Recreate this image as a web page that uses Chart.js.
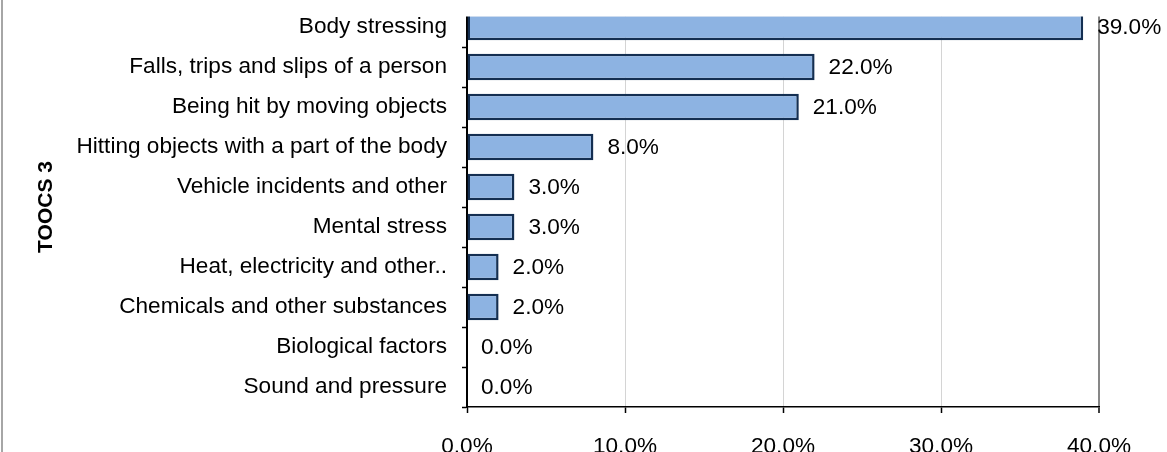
<!DOCTYPE html>
<html>
<head>
<meta charset="utf-8">
<script src="https://cdn.jsdelivr.net/npm/chart.js@4.4.1/dist/chart.umd.min.js"></script>
<style>
  html, body { margin: 0; padding: 0; background: #fff; overflow: hidden; }
  #wrap { position: relative; width: 1167px; height: 490px; }
  #edge { position: absolute; left: 1px; top: 0; width: 2px; height: 452px; background: #a6a6a6; z-index: 2; }
</style>
</head>
<body>
<div id="wrap">
  <div id="edge"></div>
  <canvas id="c" width="1167" height="490"></canvas>
</div>
<script>
const categories = [
  "Body stressing",
  "Falls, trips and slips of a person",
  "Being hit by moving objects",
  "Hitting objects with a part of the body",
  "Vehicle incidents and other",
  "Mental stress",
  "Heat, electricity and other..",
  "Chemicals and other substances",
  "Biological factors",
  "Sound and pressure"
];
const values = [39.0, 22.0, 21.0, 8.0, 3.0, 3.0, 2.0, 2.0, 0.0, 0.0];
const xTicks = [0, 10, 20, 30, 40];
const axisTitle = "TOOCS 3";

const FONT = "'Liberation Sans', Arial, sans-serif";
const FS = 22.6;

const labelPlugin = {
  id: 'labels',
  afterDraw(chart) {
    const ctx = chart.ctx;
    const ca = chart.chartArea;
    ctx.save();
    // top of plot cropped in reference
    ctx.fillStyle = '#ffffff';
    ctx.fillRect(ca.left - 9, 0, ca.right - ca.left + 12, 16.5);
    ctx.font = FS + "px " + FONT;
    ctx.fillStyle = '#000';
    ctx.textAlign = 'left';
    ctx.textBaseline = 'middle';
    const meta = chart.getDatasetMeta(0);
    meta.data.forEach((el, i) => {
      ctx.fillText(values[i].toFixed(1) + '%', el.x + 14, el.y + 1);
    });
    ctx.restore();
  }
};

new Chart(document.getElementById('c'), {
  type: 'bar',
  data: {
    labels: categories,
    datasets: [{
      data: values,
      backgroundColor: '#8DB3E2',
      borderColor: '#142F52',
      borderWidth: (c) => (values[c.dataIndex] === 0 ? 0 : 2.5),
      borderSkipped: false,
      barPercentage: 0.667,
      categoryPercentage: 1.0
    }]
  },
  options: {
    indexAxis: 'y',
    responsive: false,
    animation: false,
    devicePixelRatio: 1,
    layout: { padding: { left: 20, right: 68, top: 7, bottom: 33 } },
    plugins: { legend: { display: false }, tooltip: { enabled: false } },
    scales: {
      y: {
        type: 'category',
        afterFit: (s) => { s.width = 447; s.paddingTop = 0; s.paddingBottom = 0; },
        grid: { offset: true, drawOnChartArea: false, drawTicks: true, tickLength: 5, tickColor: '#000', tickWidth: 1.5 },
        border: { display: true, color: '#000', width: 2 },
        ticks: { color: '#000', padding: 15, font: { family: FONT, size: FS } },
        title: { display: true, text: axisTitle, color: '#000', padding: { top: 14, bottom: 0 }, font: { family: FONT, size: 21, weight: 'bold' } }
      },
      x: {
        min: 0, max: 40,
        afterFit: (s) => { s.height = 50; },
        afterBuildTicks: (s) => { s.ticks = xTicks.map(v => ({ value: v })); },
        grid: {
          color: (c) => (c.tick && c.tick.value === 40 ? '#878787' : '#d4d4d4'),
          lineWidth: (c) => (c.tick && c.tick.value === 40 ? 2 : 1),
          tickColor: '#000', tickLength: 6, tickWidth: 1.5
        },
        border: { display: true, color: '#000', width: 1.5 },
        ticks: { color: '#000', padding: 20, font: { family: FONT, size: FS }, callback: (v) => Number(v).toFixed(1) + '%' }
      }
    }
  },
  plugins: [labelPlugin]
});
</script>
</body>
</html>
